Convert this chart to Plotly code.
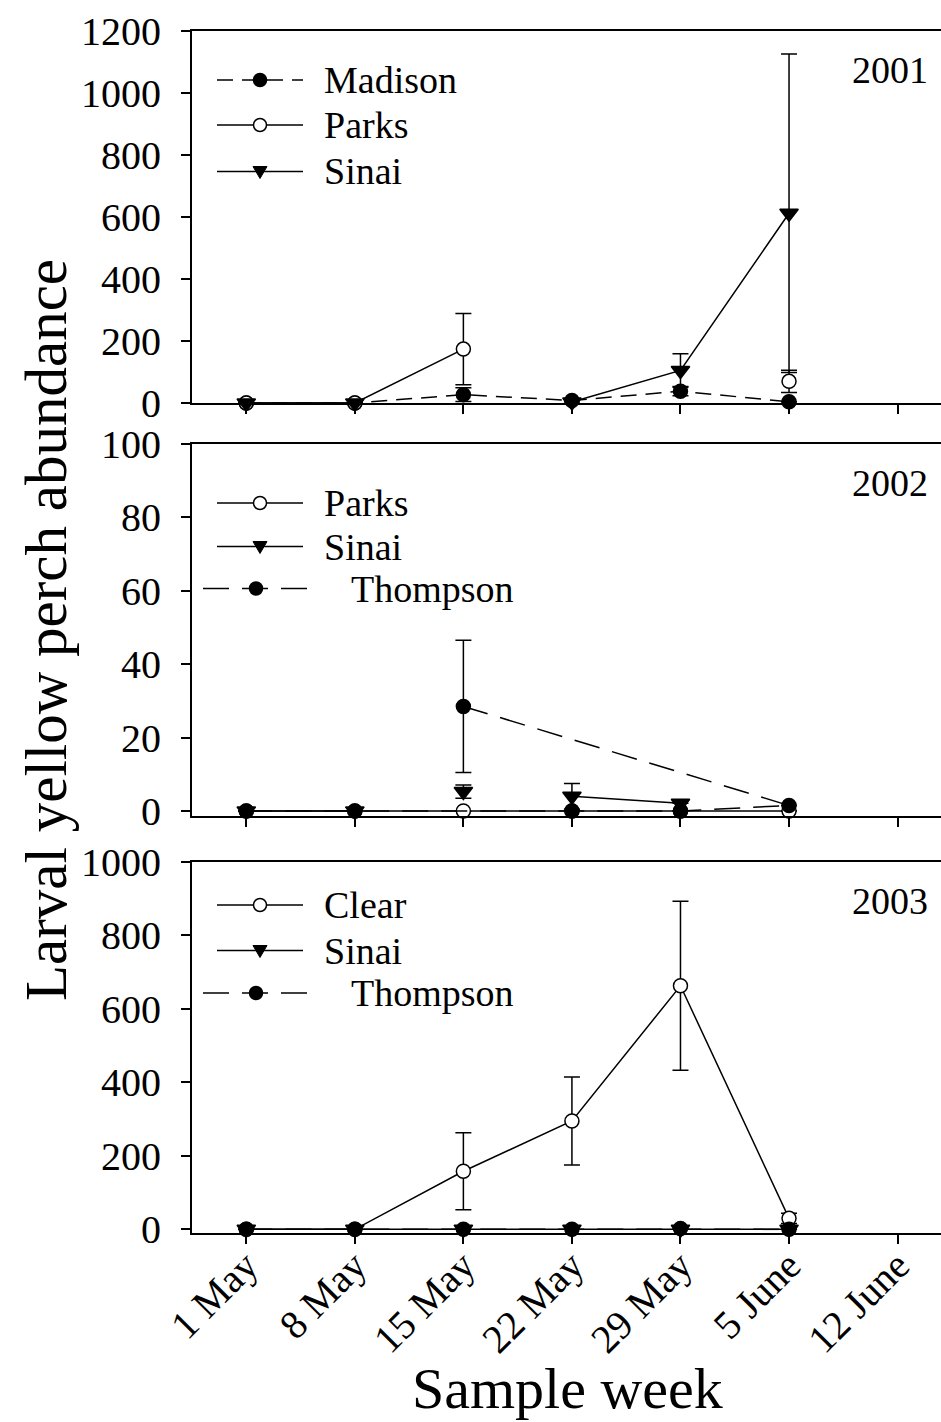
import plotly.graph_objects as go

# ---------------------------------------------------------------- data
weeks = ["1 May", "8 May", "15 May", "22 May", "29 May", "5 June", "12 June"]

# 2001 (None = no sample; breaks the line)
madison_2001_wk = ["1 May", "8 May", "15 May", "22 May", "29 May", "5 June"]
madison_2001 = [0, 0, 27, 8, 38, 4]
madison_2001_se = [0, 0, 22, 0, 15, 0]

parks_2001_wk = ["1 May", "8 May", "15 May", None, "5 June"]
parks_2001 = [0, 0, 174, None, 70]
parks_2001_se = [0, 0, 115, None, 36]

sinai_2001_wk = ["1 May", "8 May", None, "22 May", "29 May", "5 June"]
sinai_2001 = [0, 0, None, 3, 105, 612]
sinai_2001_se = [0, 0, None, 0, 54, 514]

# 2002
parks_2002_wk = ["1 May", "8 May", "15 May", "22 May", "29 May", "5 June"]
parks_2002 = [0, 0, 0, 0, 0, 0]
parks_2002_se = [0, 0, 0, 0, 0, 0]

sinai_2002_wk = ["1 May", "8 May", None, "15 May", None, "22 May", "29 May"]
sinai_2002 = [0, 0, None, 5.3, None, 4.0, 2.1]
sinai_2002_se = [0, 0, None, 1.8, None, 3.5, 0]

# rows kept in the order they were sampled/entered
thompson_2002_wk = ["1 May", "8 May", "22 May", "29 May", "5 June", "15 May"]
thompson_2002 = [0, 0, 0, 0, 1.5, 28.5]
thompson_2002_se = [0, 0, 0, 0, 0, 18]

# 2003
clear_2003_wk = ["1 May", "8 May", "15 May", "22 May", "29 May", "5 June"]
clear_2003 = [0, 0, 158, 295, 663, 30]
clear_2003_se = [0, 0, 105, 120, 230, 14]

sinai_2003_wk = ["1 May", "8 May", "15 May", "22 May", "29 May", "5 June"]
sinai_2003 = [0, 0, 0, 0, 0, 0]
sinai_2003_se = [0, 0, 0, 0, 0, 0]

thompson_2003_wk = ["1 May", "8 May", "15 May", "22 May", "29 May", "5 June"]
thompson_2003 = [0, 0, 0, 0, 2, 0]
thompson_2003_se = [0, 0, 0, 0, 0, 0]

years = ["2001", "2002", "2003"]
y_ranges = [[0, 1200], [-1.36, 100], [-10, 1000]]
y_ticks = [list(range(0, 1201, 200)), list(range(0, 101, 20)), list(range(0, 1001, 200))]

panels = [
    [("Madison", madison_2001_wk, madison_2001, madison_2001_se),
     ("Parks", parks_2001_wk, parks_2001, parks_2001_se),
     ("Sinai", sinai_2001_wk, sinai_2001, sinai_2001_se)],
    [("Parks", parks_2002_wk, parks_2002, parks_2002_se),
     ("Sinai", sinai_2002_wk, sinai_2002, sinai_2002_se),
     ("Thompson", thompson_2002_wk, thompson_2002, thompson_2002_se)],
    [("Clear", clear_2003_wk, clear_2003, clear_2003_se),
     ("Sinai", sinai_2003_wk, sinai_2003, sinai_2003_se),
     ("Thompson", thompson_2003_wk, thompson_2003, thompson_2003_se)],
]

# ---------------------------------------------------------------- styling
W, H = 941, 1422
FONT = "Liberation Serif, Times New Roman, serif"
STYLE = {
    "Madison": dict(symbol="circle", fill="black", dash="16px,9px", size=14),
    "Parks": dict(symbol="circle", fill="white", dash="solid", size=14),
    "Clear": dict(symbol="circle", fill="white", dash="solid", size=14),
    "Sinai": dict(symbol="triangle-down", fill="black", dash="solid", size=16),
    "Thompson": dict(symbol="circle", fill="black", dash="26px,13px", size=14),
}

def px_x(p):
    return p / W

def px_y(p):
    return 1 - p / H

X_LEFT = 192
panel_top = [31, 444, 862]
panel_bot = [403, 816, 1233]

fig = go.Figure()
for i, series in enumerate(panels):
    n = "" if i == 0 else str(i + 1)
    for name, wk, vals, se in series:
        st = STYLE[name]
        xs = [weeks.index(w) if w is not None else None for w in wk]
        fig.add_trace(go.Scatter(
            x=xs, y=vals, xaxis="x" + n, yaxis="y" + n, name=name,
            mode="lines+markers", showlegend=False, cliponaxis=False,
            line=dict(color="black", width=1.5, dash=st["dash"]),
            marker=dict(symbol=st["symbol"], size=st["size"], color=st["fill"],
                        line=dict(color="black", width=1.5)),
            error_y=dict(type="data", array=se, visible=True, color="black",
                         thickness=1.5, width=8),
        ))

layout = dict(
    width=W, height=H, margin=dict(l=0, r=0, t=0, b=0, autoexpand=False),
    paper_bgcolor="white", plot_bgcolor="white", showlegend=False,
    font=dict(family=FONT, color="black"),
)
for i in range(3):
    n = "" if i == 0 else str(i + 1)
    dom = [px_y(panel_bot[i]), px_y(panel_top[i])]
    layout["xaxis" + n] = dict(
        domain=[px_x(X_LEFT), 1], range=[-0.5, 6.4], anchor="y" + n,
        tickvals=list(range(len(weeks))), ticktext=weeks,
        showticklabels=(i == 2), tickangle=-45, automargin=False,
        ticklabelstandoff=-18,
        tickfont=dict(size=40, family=FONT, color="black"),
        ticks="outside", ticklen=9, tickwidth=2, tickcolor="black",
        showline=True, linewidth=2, linecolor="black", mirror=True,
        showgrid=False, zeroline=False,
    )
    layout["yaxis" + n] = dict(
        domain=dom, range=y_ranges[i], anchor="x" + n, automargin=False,
        tickvals=y_ticks[i], tickfont=dict(size=40, family=FONT, color="black"),
        ticks="outside", ticklen=9, tickwidth=2, tickcolor="black",
        ticklabelstandoff=12,
        showline=True, linewidth=2, linecolor="black",
        showgrid=False, zeroline=False,
    )
fig.update_layout(**layout)

# ---------------------------------------------------------------- legends
legend_rows = [[80, 125, 171.5], [503, 546.5, 588.5], [905, 950.5, 993]]
shapes, annotations = [], []
for i, series in enumerate(panels):
    for (name, *_), ry in zip(series, legend_rows[i]):
        st = STYLE[name]
        if name == "Thompson":
            lx0, lx1, mx, tx = 203, 307, 256, 349
        else:
            lx0, lx1, mx, tx = 217, 303, 260, 322
        shapes.append(dict(type="line", xref="paper", yref="paper",
                           x0=px_x(lx0), x1=px_x(lx1), y0=px_y(ry), y1=px_y(ry),
                           line=dict(color="black", width=1.5, dash=st["dash"])))
        r = st["size"] / 2 - 0.5
        if st["symbol"] == "circle":
            shapes.append(dict(type="circle", xref="paper", yref="paper",
                               xsizemode="pixel", ysizemode="pixel",
                               xanchor=px_x(mx), yanchor=px_y(ry),
                               x0=-r, x1=r, y0=-r, y1=r,
                               fillcolor=st["fill"], line=dict(color="black", width=1.5)))
        else:
            shapes.append(dict(type="path", xref="paper", yref="paper",
                               xsizemode="pixel", ysizemode="pixel",
                               xanchor=px_x(mx), yanchor=px_y(ry),
                               path="M -7 5 L 7 5 L 0 -7 Z",
                               fillcolor="black", line=dict(color="black", width=1)))
        annotations.append(dict(text=name, xref="paper", yref="paper",
                                x=px_x(tx), y=px_y(ry), xanchor="left", yanchor="middle",
                                showarrow=False, font=dict(size=38, family=FONT, color="black")))
    annotations.append(dict(text=years[i], xref="paper", yref="paper",
                            x=px_x(930), y=px_y(panel_top[i] + 39),
                            xanchor="right", yanchor="middle", showarrow=False,
                            font=dict(size=38, family=FONT, color="black")))

annotations.append(dict(text="Larval yellow perch abundance", xref="paper", yref="paper",
                        x=px_x(46), y=px_y(630), textangle=-90,
                        xanchor="center", yanchor="middle", showarrow=False,
                        font=dict(size=59, family=FONT, color="black")))
annotations.append(dict(text="Sample week", xref="paper", yref="paper",
                        x=px_x(567), y=px_y(1388), xanchor="center", yanchor="middle",
                        showarrow=False, font=dict(size=58, family=FONT, color="black")))

fig.update_layout(shapes=shapes, annotations=annotations)
fig.write_html("out.html")
